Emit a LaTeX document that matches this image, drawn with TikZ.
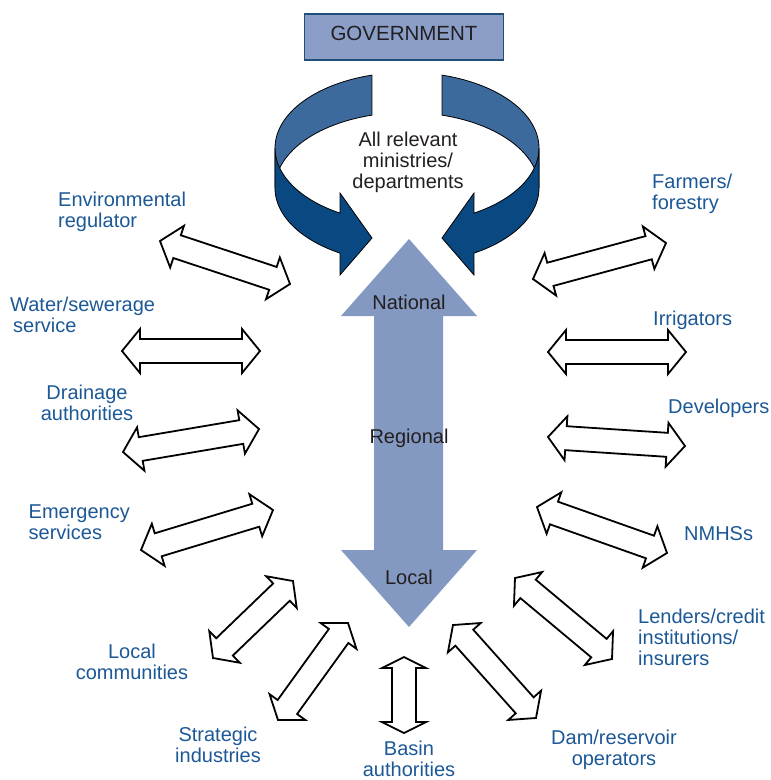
\documentclass[tikz,border=0pt]{standalone}
\usepackage{fontspec}
\setmainfont{Liberation Sans}
\usetikzlibrary{calc}
\definecolor{actorblue}{RGB}{28,88,150}
\definecolor{darktext}{RGB}{35,31,32}
\definecolor{levelblue}{RGB}{132,153,193}
\definecolor{govfill}{RGB}{138,158,200}
\definecolor{govline}{RGB}{31,78,122}
\definecolor{backblue}{RGB}{61,106,157}
\definecolor{frontblue}{RGB}{10,72,130}
\newcommand{\twoway}[3][18pt]{%
  \draw[biarrow] (#2)
    -- ($(#2)!#1!(#3)!22pt!90:(#3)$) -- ($(#2)!#1!(#3)!12pt!90:(#3)$)
    -- ($(#3)!#1!(#2)!12pt!-90:(#2)$) -- ($(#3)!#1!(#2)!22pt!-90:(#2)$)
    -- (#3)
    -- ($(#3)!#1!(#2)!22pt!90:(#2)$) -- ($(#3)!#1!(#2)!12pt!90:(#2)$)
    -- ($(#2)!#1!(#3)!12pt!-90:(#3)$) -- ($(#2)!#1!(#3)!22pt!-90:(#3)$)
    -- cycle;}
\begin{document}
\begin{tikzpicture}[x=1pt, y=-1pt,
  actor/.style={text=actorblue, font=\fontsize{20}{21}\selectfont, inner sep=0pt},
  level/.style={text=darktext, font=\fontsize{20}{21}\selectfont, inner sep=0pt},
  biarrow/.style={draw=black, fill=white, line width=1.8pt, line join=miter},
  band/.style={draw=black, line width=0.8pt}]
\useasboundingbox (0,0) rectangle (771,780);
\node[draw=govline, fill=govfill, line width=1.5pt, minimum width=199pt, minimum height=46pt,
      text depth=7pt, level, font=\fontsize{20.5}{21}\selectfont] (gov) at (404,37) {GOVERNMENT};
\filldraw[band, fill=backblue] plot[domain=254.6:180, samples=30] ({407+132*cos(\x)},{148+75.6*sin(\x)})
    -- plot[domain=180:254.6, samples=30] ({407+132*cos(\x)},{188+75.6*sin(\x)}) -- cycle;
\filldraw[band, fill=backblue] plot[domain=285.4:360, samples=30] ({407+132*cos(\x)},{148+75.6*sin(\x)})
    -- plot[domain=360:285.4, samples=30] ({407+132*cos(\x)},{188+75.6*sin(\x)}) -- cycle;
\filldraw[band, fill=frontblue] plot[domain=180:120.5, samples=30] ({407+132*cos(\x)},{148+75.6*sin(\x)})
    -- (340,193) -- (372,238) -- (340,275)
    -- plot[domain=120.5:180, samples=30] ({407+132*cos(\x)},{188+75.6*sin(\x)}) -- cycle;
\filldraw[band, fill=frontblue] plot[domain=0:59.5, samples=30] ({407+132*cos(\x)},{148+75.6*sin(\x)})
    -- (474,193) -- (442,238) -- (474,275)
    -- plot[domain=59.5:0, samples=30] ({407+132*cos(\x)},{188+75.6*sin(\x)}) -- cycle;
\node[level, anchor=north, align=center] (ministries) at (408,131.5) {All relevant\\ministries/\\departments};
\fill[levelblue] (409,239) -- (477,316) -- (443,316) -- (443,550) -- (477,550) -- (409,627)
    -- (341,550) -- (374,550) -- (374,316) -- (341,316) -- cycle;
\node[level, anchor=north] (national) at (409,295) {National};
\node[level, anchor=north] (regional) at (409,429) {Regional};
\node[level, anchor=north] (local) at (409,570) {Local};
\node[actor, anchor=north west, align=left] (envreg) at (58,191.5) {Environmental\\regulator};
\node[actor, anchor=north west, align=left] (water) at (10,296.5) {Water/sewerage\\\hspace{3pt}service};
\node[actor, anchor=north, align=center] (drainage) at (87,385) {Drainage\\authorities};
\node[actor, anchor=north west, align=left] (emergency) at (28.5,505) {Emergency\\services};
\node[actor, anchor=north, align=center] (localcom) at (132,644) {Local\\communities};
\node[actor, anchor=north, align=center] (strategic) at (218,727) {Strategic\\industries};
\node[actor, anchor=north, align=center] (basin) at (409,741) {Basin\\authorities};
\node[actor, anchor=north, align=center] (dam) at (614,730) {Dam/reservoir\\operators};
\node[actor, anchor=north west, align=left] (lenders) at (638,609) {Lenders/credit\\institutions/\\insurers};
\node[actor, anchor=north west] (nmhs) at (684,526) {NMHSs};
\node[actor, anchor=north west] (developers) at (668,399) {Developers};
\node[actor, anchor=north west] (irrigators) at (653,311) {Irrigators};
\node[actor, anchor=north west, align=left] (farmers) at (652,174) {Farmers/\\forestry};
\coordinate (envA) at (160,241);  \coordinate (envB) at (290,284);
\coordinate (watA) at (122,351);  \coordinate (watB) at (260,351);
\coordinate (draA) at (123,452);  \coordinate (draB) at (259,429);
\coordinate (emeA) at (141,550);  \coordinate (emeB) at (273,510);
\coordinate (locA) at (213,658);  \coordinate (locB) at (293,581);
\coordinate (strA) at (278,720);  \coordinate (strB) at (348,623);
\coordinate (basA) at (404,657);  \coordinate (basB) at (404,733);
\coordinate (damA) at (453,625);  \coordinate (damB) at (536,718);
\coordinate (lenA) at (515,578);  \coordinate (lenB) at (612,659);
\coordinate (nmhA) at (537,507);  \coordinate (nmhB) at (667,553);
\coordinate (devA) at (548,437);  \coordinate (devB) at (685,446);
\coordinate (irrA) at (548,352);  \coordinate (irrB) at (686,352);
\coordinate (farA) at (533,279);  \coordinate (farB) at (666,243);
\twoway{envA}{envB}
\twoway{watA}{watB}
\twoway{draA}{draB}
\twoway{emeA}{emeB}
\twoway[16pt]{locA}{locB}
\twoway[16pt]{strA}{strB}
\twoway[11pt]{basA}{basB}
\twoway[17pt]{damA}{damB}
\twoway[17pt]{lenA}{lenB}
\twoway{nmhA}{nmhB}
\twoway{devA}{devB}
\twoway{irrA}{irrB}
\twoway{farA}{farB}
\end{tikzpicture}
\end{document}
